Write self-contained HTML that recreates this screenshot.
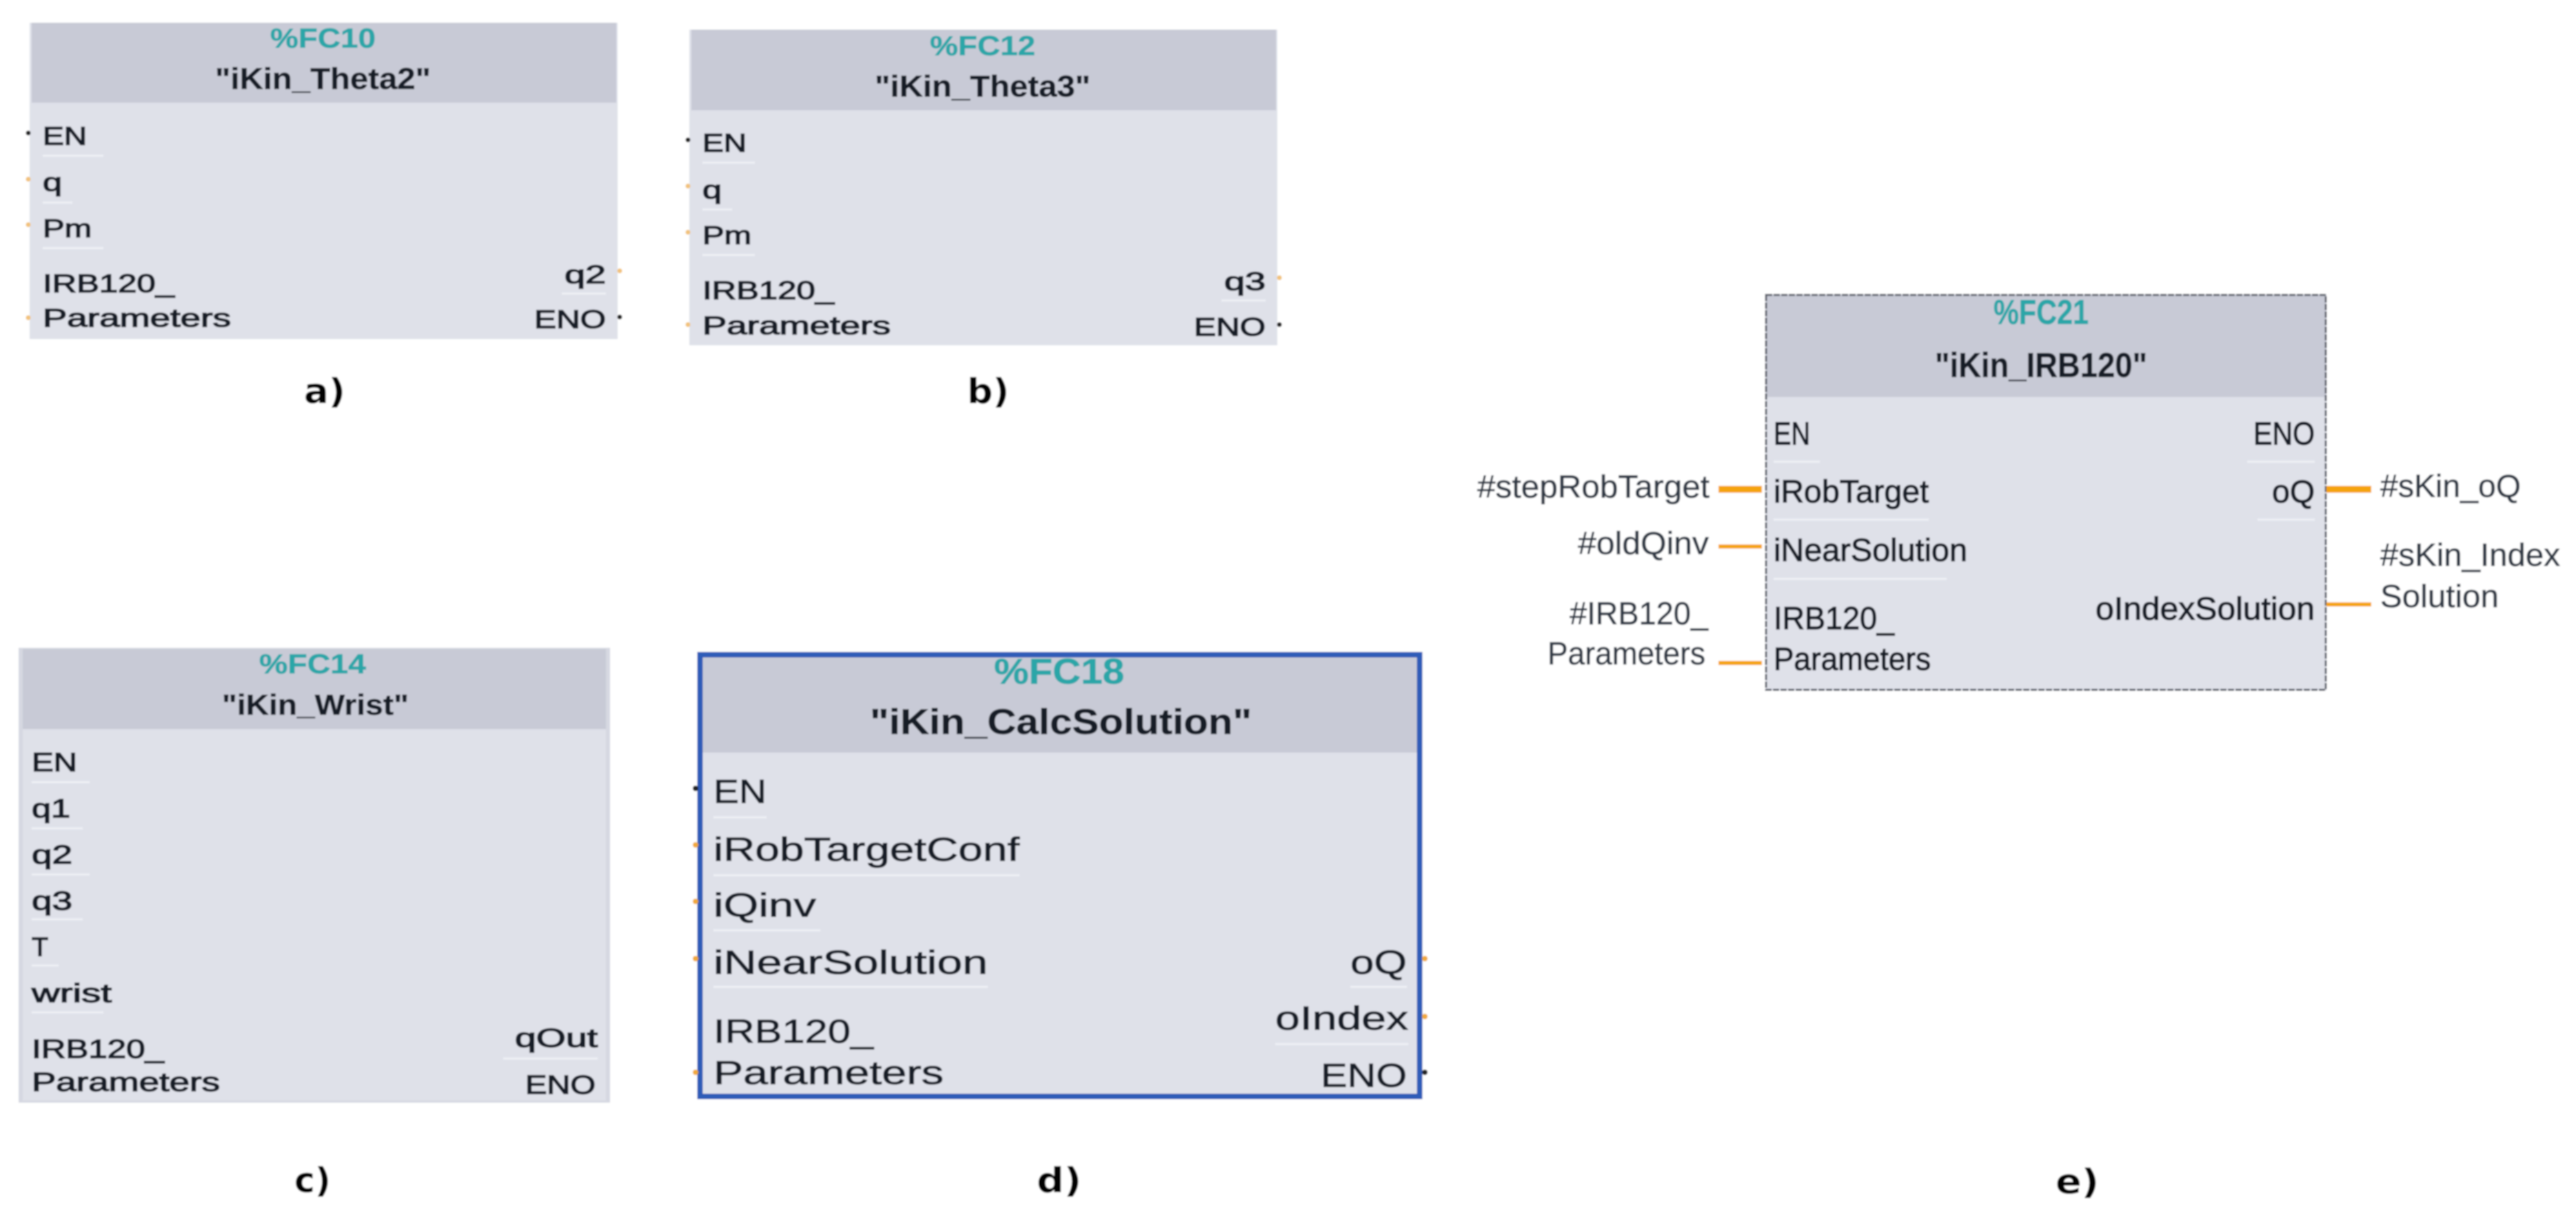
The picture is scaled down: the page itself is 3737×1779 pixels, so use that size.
<!DOCTYPE html>
<html><head><meta charset="utf-8"><style>
html,body{margin:0;padding:0;background:#fff}
svg{display:block}
text{font-family:"Liberation Sans",sans-serif;fill:#151a28;stroke:#151a28;stroke-width:1.5;paint-order:stroke}
.d text{stroke-width:.9}
.e text{stroke-width:1.2}
text.n{font-weight:bold;stroke-width:.5}
text.t{fill:#2aa6a8;stroke:#2aa6a8;font-weight:bold;stroke-width:.6}
text.w{fill:#2f3744;stroke:#2f3744;stroke-width:.6}
text.l{font-family:"DejaVu Sans",sans-serif;font-weight:bold;fill:#000;stroke:none}
.h{fill:#c8cad6}.b{fill:#dfe1e9}.f{fill:#d6d8e1}
.p{stroke:#eef0f5;stroke-width:3;fill:none}
.o{fill:#f2c27a}.k{fill:#222}
.wire{stroke:#f5a311;fill:none}
</style></head><body>
<svg xmlns="http://www.w3.org/2000/svg" width="3737" height="1779" viewBox="0 0 3737 1779">
<defs><filter id="s" x="0" y="0" width="100%" height="100%"><feGaussianBlur stdDeviation="1"/></filter></defs>
<g filter="url(#s)">
<rect width="3737" height="1779" fill="#fff"/>

<!-- a -->
<rect class="b" x="43" y="33" width="853" height="459"/><rect class="h" x="46" y="33" width="848" height="116"/>
<text class="t" x="392" y="69" font-size="40" textLength="153" lengthAdjust="spacingAndGlyphs">%FC10</text>
<text class="n" x="312" y="129" font-size="44" textLength="313" lengthAdjust="spacingAndGlyphs">"iKin_Theta2"</text>
<text x="62" y="210" font-size="37" textLength="64" lengthAdjust="spacingAndGlyphs">EN</text>
<text x="62" y="277" font-size="37" textLength="28" lengthAdjust="spacingAndGlyphs">q</text>
<text x="62" y="344" font-size="37" textLength="71" lengthAdjust="spacingAndGlyphs">Pm</text>
<text x="62" y="424" font-size="37" textLength="191" lengthAdjust="spacingAndGlyphs">IRB120_</text>
<text x="62" y="474" font-size="37" textLength="273" lengthAdjust="spacingAndGlyphs">Parameters</text>
<text x="819" y="411" font-size="37" textLength="60" lengthAdjust="spacingAndGlyphs">q2</text>
<text x="775" y="476" font-size="37" textLength="104" lengthAdjust="spacingAndGlyphs">ENO</text>
<path class="p" d="M62 226H150M62 294H105M62 360H150M815 426H879"/>
<circle class="k" cx="41" cy="193" r="3.5"/><circle class="o" cx="41" cy="260" r="3.5"/><circle class="o" cx="41" cy="326" r="3.5"/><circle class="o" cx="41" cy="461" r="3.5"/><circle class="o" cx="899" cy="393" r="3.5"/><circle class="k" cx="899" cy="460" r="3.5"/>
<text class="l" x="441" y="585" font-size="50" textLength="60" lengthAdjust="spacingAndGlyphs">a)</text>

<!-- b -->
<rect class="b" x="1000" y="43" width="853" height="458"/><rect class="h" x="1003" y="43" width="848" height="117"/>
<text class="t" x="1349" y="80" font-size="40" textLength="153" lengthAdjust="spacingAndGlyphs">%FC12</text>
<text class="n" x="1269" y="140" font-size="44" textLength="313" lengthAdjust="spacingAndGlyphs">"iKin_Theta3"</text>
<text x="1019" y="220" font-size="37" textLength="64" lengthAdjust="spacingAndGlyphs">EN</text>
<text x="1019" y="288" font-size="37" textLength="28" lengthAdjust="spacingAndGlyphs">q</text>
<text x="1019" y="354" font-size="37" textLength="71" lengthAdjust="spacingAndGlyphs">Pm</text>
<text x="1019" y="434" font-size="37" textLength="191" lengthAdjust="spacingAndGlyphs">IRB120_</text>
<text x="1019" y="485" font-size="37" textLength="273" lengthAdjust="spacingAndGlyphs">Parameters</text>
<text x="1776" y="421" font-size="37" textLength="60" lengthAdjust="spacingAndGlyphs">q3</text>
<text x="1732" y="487" font-size="37" textLength="104" lengthAdjust="spacingAndGlyphs">ENO</text>
<path class="p" d="M1019 236H1095M1019 304H1062M1019 370H1095M1772 436H1836"/>
<circle class="k" cx="998" cy="203" r="3.5"/><circle class="o" cx="998" cy="270" r="3.5"/><circle class="o" cx="998" cy="337" r="3.5"/><circle class="o" cx="998" cy="471" r="3.5"/><circle class="o" cx="1856" cy="403" r="3.5"/><circle class="k" cx="1856" cy="471" r="3.5"/>
<text class="l" x="1403" y="585" font-size="50" textLength="61" lengthAdjust="spacingAndGlyphs">b)</text>

<!-- c -->
<rect class="f" x="27" y="940" width="858" height="660"/><rect class="b" x="33" y="1058" width="846" height="539"/><rect class="h" x="33" y="942" width="846" height="116"/>
<text class="t" x="376" y="977" font-size="40" textLength="155" lengthAdjust="spacingAndGlyphs">%FC14</text>
<text class="n" x="322" y="1037" font-size="42" textLength="271" lengthAdjust="spacingAndGlyphs">"iKin_Wrist"</text>
<text x="46" y="1119" font-size="38" textLength="66" lengthAdjust="spacingAndGlyphs">EN</text>
<text x="46" y="1186" font-size="38" textLength="56" lengthAdjust="spacingAndGlyphs">q1</text>
<text x="46" y="1253" font-size="38" textLength="59" lengthAdjust="spacingAndGlyphs">q2</text>
<text x="46" y="1320" font-size="38" textLength="59" lengthAdjust="spacingAndGlyphs">q3</text>
<text x="46" y="1387" font-size="38" textLength="24" lengthAdjust="spacingAndGlyphs">T</text>
<text x="46" y="1454" font-size="38" textLength="116" lengthAdjust="spacingAndGlyphs">wrist</text>
<text x="46" y="1535" font-size="38" textLength="192" lengthAdjust="spacingAndGlyphs">IRB120_</text>
<text x="46" y="1583" font-size="38" textLength="273" lengthAdjust="spacingAndGlyphs">Parameters</text>
<text x="747" y="1519" font-size="38" textLength="120" lengthAdjust="spacingAndGlyphs">qOut</text>
<text x="762" y="1587" font-size="38" textLength="102" lengthAdjust="spacingAndGlyphs">ENO</text>
<path class="p" d="M46 1135H130M46 1202H120M46 1269H130M46 1334H120M46 1401H85M46 1469H150M730 1536H867"/>
<text class="l" x="427" y="1730" font-size="50" textLength="53" lengthAdjust="spacingAndGlyphs">c)</text>

<!-- d -->
<g class="d">
<rect class="b" x="1015" y="950" width="1045" height="641"/><rect class="h" x="1015" y="950" width="1045" height="142"/>
<rect x="1015.5" y="950" width="1044" height="641" fill="none" stroke="#2f5bb8" stroke-width="8"/>
<text class="t" x="1442" y="992" font-size="52" textLength="189" lengthAdjust="spacingAndGlyphs">%FC18</text>
<text class="n" x="1262" y="1065" font-size="52" textLength="554" lengthAdjust="spacingAndGlyphs">"iKin_CalcSolution"</text>
<text x="1035" y="1165" font-size="48" textLength="77" lengthAdjust="spacingAndGlyphs">EN</text>
<text x="1035" y="1249" font-size="48" textLength="444" lengthAdjust="spacingAndGlyphs">iRobTargetConf</text>
<text x="1035" y="1330" font-size="48" textLength="149" lengthAdjust="spacingAndGlyphs">iQinv</text>
<text x="1035" y="1413" font-size="48" textLength="398" lengthAdjust="spacingAndGlyphs">iNearSolution</text>
<text x="1035" y="1513" font-size="48" textLength="232" lengthAdjust="spacingAndGlyphs">IRB120_</text>
<text x="1035" y="1573" font-size="48" textLength="334" lengthAdjust="spacingAndGlyphs">Parameters</text>
<text x="1959" y="1413" font-size="48" textLength="82" lengthAdjust="spacingAndGlyphs">oQ</text>
<text x="1850" y="1494" font-size="48" textLength="193" lengthAdjust="spacingAndGlyphs">oIndex</text>
<text x="1916" y="1577" font-size="48" textLength="125" lengthAdjust="spacingAndGlyphs">ENO</text>
<path class="p" d="M1035 1186H1112M1035 1270H1479M1035 1350H1190M1035 1432H1433M1959 1432H2041M1850 1515H2043"/>
<circle class="k" cx="1009" cy="1144" r="4"/><circle fill="#f0a93a" cx="1009" cy="1226" r="4"/><circle fill="#f0a93a" cx="1009" cy="1308" r="4"/><circle fill="#f0a93a" cx="1009" cy="1391" r="4"/><circle fill="#f0a93a" cx="1009" cy="1556" r="4"/><circle fill="#f0a93a" cx="2067" cy="1391" r="4"/><circle fill="#f0a93a" cx="2067" cy="1475" r="4"/><circle class="k" cx="2067" cy="1556" r="4"/>
</g>
<text class="l" x="1504" y="1730" font-size="50" textLength="65" lengthAdjust="spacingAndGlyphs">d)</text>

<!-- e -->
<g class="e">
<rect class="b" x="2561" y="427" width="814" height="575"/><rect class="h" x="2561" y="427" width="814" height="149"/>
<rect x="2562" y="428" width="812" height="573" fill="none" stroke="#5a5f6a" stroke-width="3" stroke-dasharray="9 2"/>
<text class="t" x="2892" y="470" font-size="50" textLength="138" lengthAdjust="spacingAndGlyphs">%FC21</text>
<text class="n" x="2807" y="547" font-size="50" textLength="308" lengthAdjust="spacingAndGlyphs">"iKin_IRB120"</text>
<text x="2573" y="645" font-size="46" textLength="53" lengthAdjust="spacingAndGlyphs">EN</text>
<text x="2573" y="729" font-size="46" textLength="225" lengthAdjust="spacingAndGlyphs">iRobTarget</text>
<text x="2573" y="814" font-size="46" textLength="281" lengthAdjust="spacingAndGlyphs">iNearSolution</text>
<text x="2573" y="913" font-size="46" textLength="175" lengthAdjust="spacingAndGlyphs">IRB120_</text>
<text x="2573" y="972" font-size="46" textLength="228" lengthAdjust="spacingAndGlyphs">Parameters</text>
<text x="3269" y="645" font-size="46" textLength="89" lengthAdjust="spacingAndGlyphs">ENO</text>
<text x="3296" y="729" font-size="46" textLength="62" lengthAdjust="spacingAndGlyphs">oQ</text>
<text x="3040" y="899" font-size="46" textLength="318" lengthAdjust="spacingAndGlyphs">oIndexSolution</text>
<path class="p" d="M2573 670H2640M2573 754H2798M2573 840H2824M3260 670H3358M3275 754H3358"/>
<text class="w" x="2143" y="722" font-size="46" textLength="337" lengthAdjust="spacingAndGlyphs">#stepRobTarget</text>
<text class="w" x="2289" y="804" font-size="46" textLength="190" lengthAdjust="spacingAndGlyphs">#oldQinv</text>
<text class="w" x="2277" y="906" font-size="46" textLength="201" lengthAdjust="spacingAndGlyphs">#IRB120_</text>
<text class="w" x="2245" y="964" font-size="46" textLength="229" lengthAdjust="spacingAndGlyphs">Parameters</text>
<text class="w" x="3453" y="721" font-size="46" textLength="204" lengthAdjust="spacingAndGlyphs">#sKin_oQ</text>
<text class="w" x="3453" y="821" font-size="46" textLength="261" lengthAdjust="spacingAndGlyphs">#sKin_Index</text>
<text class="w" x="3453" y="881" font-size="46" textLength="172" lengthAdjust="spacingAndGlyphs">Solution</text>
</g>
<path class="wire" stroke-width="10" d="M2493 710H2556M3375 710H3440"/>
<path class="wire" stroke-width="6" d="M2493 793H2556M2493 962H2556M3375 877H3440"/>
<text class="l" x="2982" y="1732" font-size="50" textLength="63" lengthAdjust="spacingAndGlyphs">e)</text>
</g>
</svg>
</body></html>
